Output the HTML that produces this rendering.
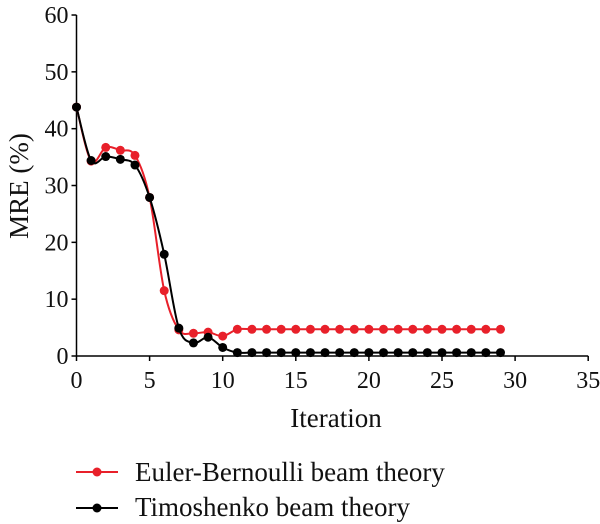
<!DOCTYPE html>
<html><head><meta charset="utf-8"><style>
html,body{margin:0;padding:0;background:#fff;}
svg{display:block;font-family:"Liberation Serif",serif;}
</style></head><body>
<svg id="chart" width="600" height="524" viewBox="0 0 600 524">
<g id="axes"></g><g id="series"></g>
<g>
  <g>
    <line x1="76" y1="472" x2="118" y2="472" stroke="#e8202a" stroke-width="2"/>
    <circle cx="97" cy="472" r="4.5" fill="#e8202a"/>
    <text x="135" y="481" font-size="27" fill="#111">Euler-Bernoulli beam theory</text>
  </g>
  <g>
    <line x1="76" y1="508" x2="118" y2="508" stroke="#000" stroke-width="2"/>
    <circle cx="97" cy="508" r="4.5" fill="#000"/>
    <text x="135" y="516" font-size="27" fill="#111">Timoshenko beam theory</text>
  </g>
</g>
</svg>
<script>
const xTicks=[0,5,10,15,20,25,30,35];
const yTicks=[0,10,20,30,40,50,60];
const iterations=[0,1,2,3,4,5,6,7,8,9,10,11,12,13,14,15,16,17,18,19,20,21,22,23,24,25,26,27,28,29];
const eulerValues=[43.8,34.3,36.7,36.2,35.3,27.9,11.5,4.6,4.0,4.2,3.5,4.7,4.7,4.7,4.7,4.7,4.7,4.7,4.7,4.7,4.7,4.7,4.7,4.7,4.7,4.7,4.7,4.7,4.7,4.7];
const timoValues=[43.8,34.4,35.1,34.6,33.6,27.9,17.9,4.9,2.3,3.3,1.5,0.6,0.6,0.6,0.6,0.6,0.6,0.6,0.6,0.6,0.6,0.6,0.6,0.6,0.6,0.6,0.6,0.6,0.6,0.6];
const X0=76.5,XS=14.62,Y0=356,YS=5.683;
const sx=v=>X0+v*XS, sy=v=>Y0-v*YS;
const NS='http://www.w3.org/2000/svg';
function mk(tag,attrs,parent){const e=document.createElementNS(NS,tag);for(const k in attrs)e.setAttribute(k,attrs[k]);parent.appendChild(e);return e;}
const axes=document.getElementById('axes'), series=document.getElementById('series');
const xa=mk('line',{x1:X0,y1:Y0,x2:sx(35),y2:Y0,stroke:'#000','stroke-width':1.5},axes);


const ya=mk('line',{x1:X0,y1:Y0,x2:X0,y2:sy(60),stroke:'#000','stroke-width':1.5},axes);


xTicks.forEach(t=>{
  mk('line',{x1:sx(t),y1:Y0,x2:sx(t),y2:Y0+5,stroke:'#000','stroke-width':1.5},axes);
  const tx=mk('text',{x:sx(t),y:388,'font-size':24,'text-anchor':'middle',fill:'#111'},axes);
  tx.textContent=t;
  
  
});
yTicks.forEach(t=>{
  mk('line',{x1:X0-5,y1:sy(t),x2:X0,y2:sy(t),stroke:'#000','stroke-width':1.5},axes);
  const tx=mk('text',{x:X0-8,y:sy(t)+8,'font-size':24,'text-anchor':'end',fill:'#111'},axes);
  tx.textContent=t;
  
  
});
const xt=mk('text',{x:336,y:427,'font-size':27,'text-anchor':'middle',fill:'#111'},axes);
xt.textContent='Iteration';


const yt=mk('text',{x:0,y:0,'font-size':27,'text-anchor':'middle',fill:'#111',transform:'translate(28,186) rotate(-90)'},axes);
yt.textContent='MRE (%)';


function smooth(pts){
  let d='M'+pts[0][0]+','+pts[0][1];
  for(let i=0;i<pts.length-1;i++){
    const p0=pts[Math.max(i-1,0)],p1=pts[i],p2=pts[i+1],p3=pts[Math.min(i+2,pts.length-1)];
    const c1=[p1[0]+(p2[0]-p0[0])/6,p1[1]+(p2[1]-p0[1])/6];
    const c2=[p2[0]-(p3[0]-p1[0])/6,p2[1]-(p3[1]-p1[1])/6];
    d+=' C'+c1[0]+','+c1[1]+' '+c2[0]+','+c2[1]+' '+p2[0]+','+p2[1];
  }
  return d;
}
function draw(vals,color,name){
  const g=mk('g',{},series);
  
  
  const pts=iterations.map((x,i)=>[sx(x),sy(vals[i])]);
  const p=mk('path',{d:smooth(pts),fill:'none',stroke:color,'stroke-width':2},g);
  
  
  pts.forEach(q=>{
    const c=mk('circle',{cx:q[0],cy:q[1],r:4.5,fill:color},g);
    
    
  });
}
draw(eulerValues,'#e8202a','euler');
draw(timoValues,'#000','timoshenko');
</script>
</body></html>
